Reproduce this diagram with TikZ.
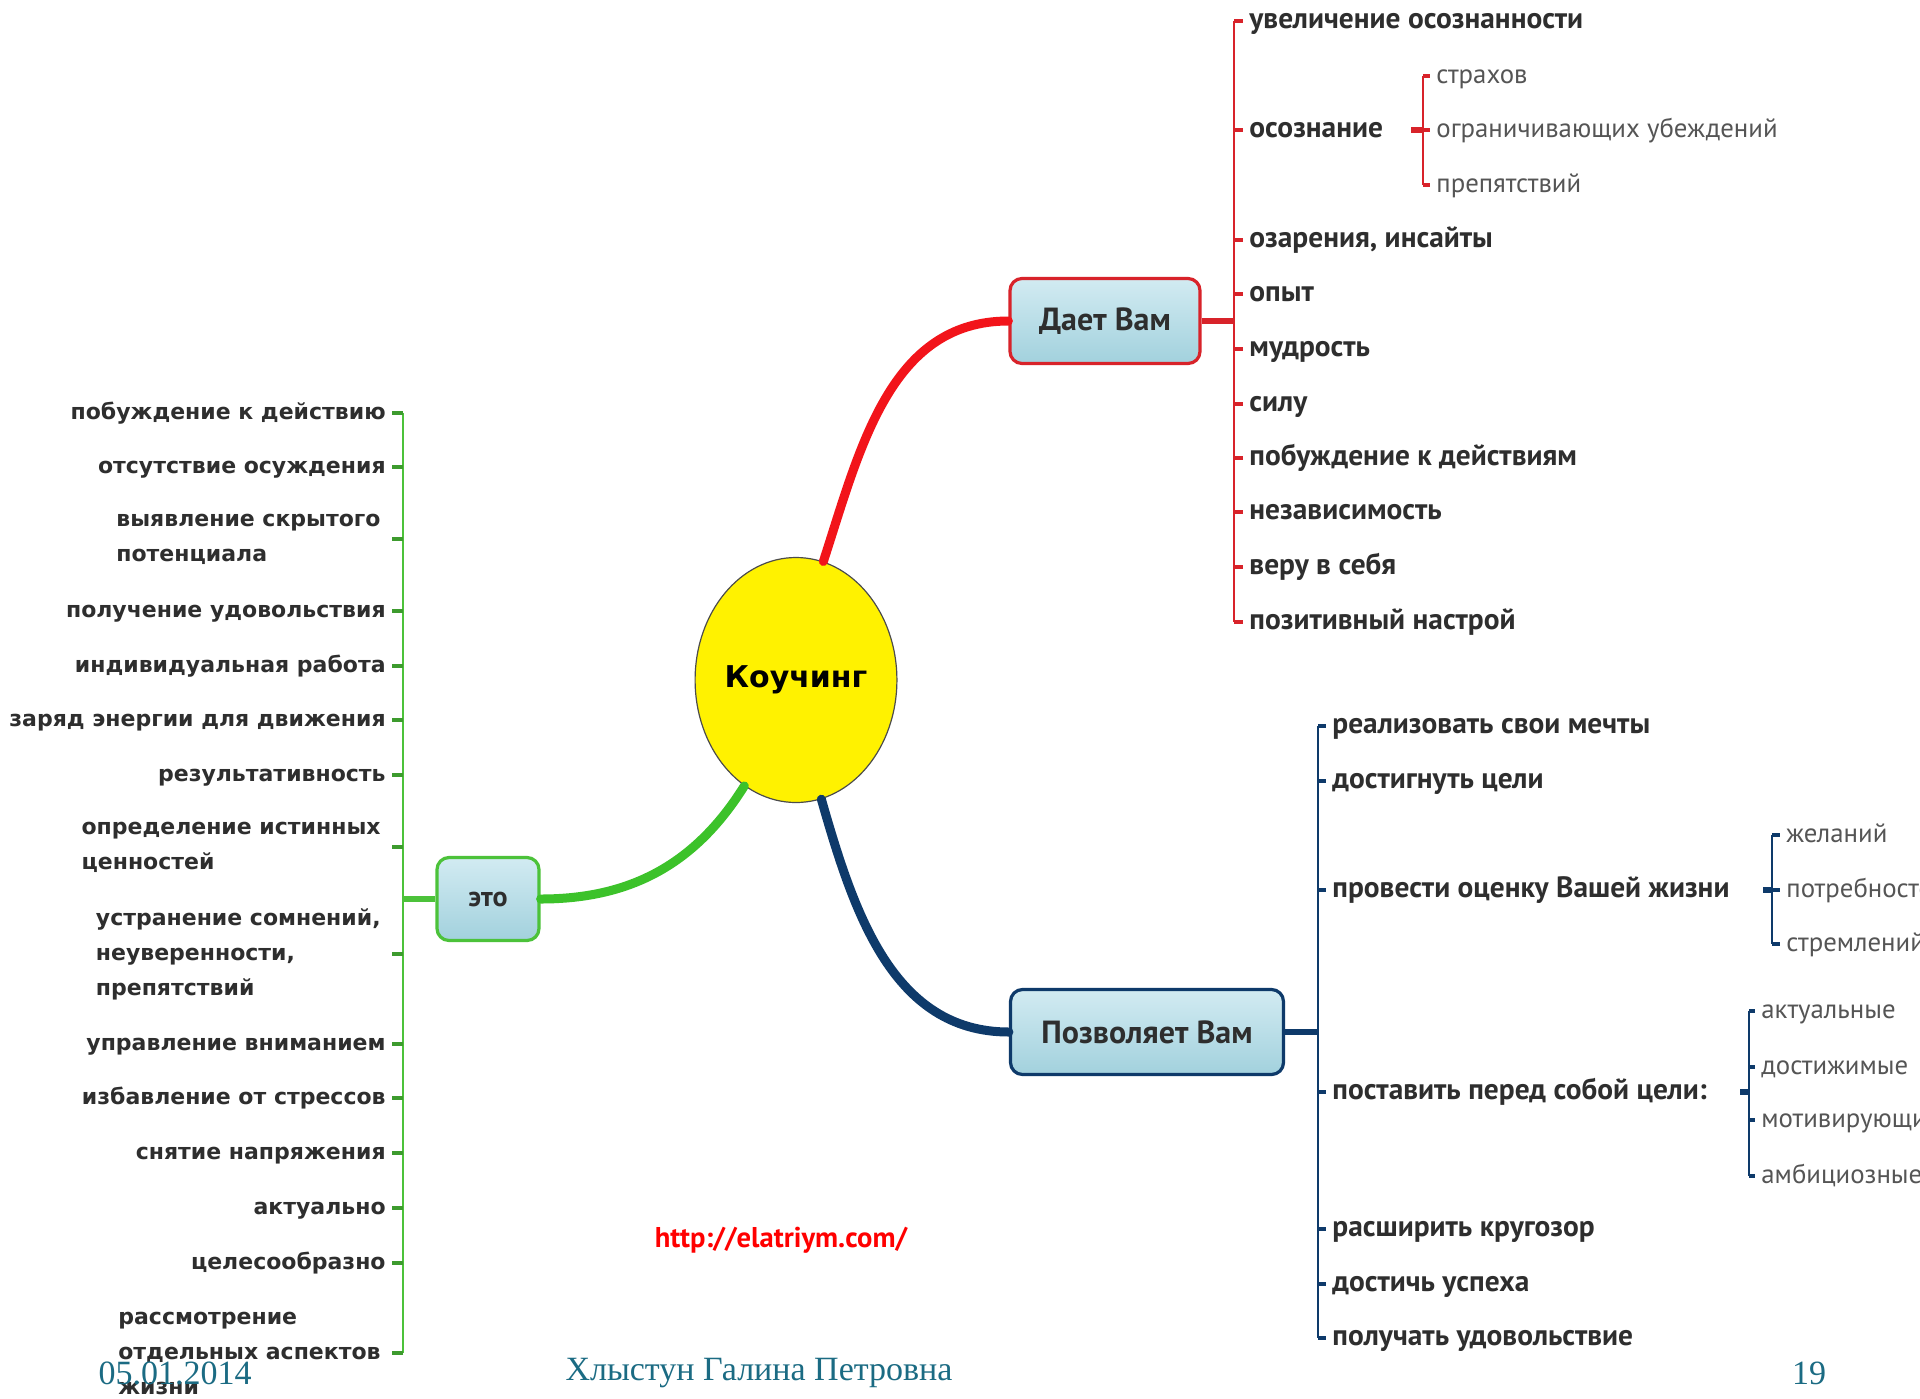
\documentclass[tikz,border=0pt]{standalone}
\usepackage{fontspec}
\setmainfont{Liberation Serif}
\newfontfamily\ptsans{PT Sans}
\newfontfamily\dejavu{DejaVu Sans}
\usetikzlibrary{positioning}
\usetikzlibrary{shapes.geometric}

\definecolor{branchred}{HTML}{F2141A}
\definecolor{barred}{HTML}{D8232A}
\definecolor{branchgreen}{HTML}{3CC22A}
\definecolor{bargreen}{HTML}{4CC23A}
\definecolor{branchblue}{HTML}{0E3A6A}
\definecolor{boxtop}{HTML}{D2EBF2}
\definecolor{boxbot}{HTML}{A2D1DD}
\definecolor{txtgray}{HTML}{2E2E2E}
\definecolor{subgray}{HTML}{555555}
\definecolor{footteal}{HTML}{1B6B83}

\tikzset{
  centre/.style={ellipse, draw=black!70, line width=0.6pt, fill=yellow,
    minimum width=95.5pt, minimum height=122.5pt, inner sep=0pt,
    font=\dejavu\bfseries\fontsize{15}{18}\selectfont},
  topic/.style={rounded corners=6pt, line width=1.6pt, top color=boxtop,
    bottom color=boxbot, text=txtgray, inner sep=0pt, minimum height=42.5pt,
    font=\ptsans\bfseries\fontsize{16}{19}\selectfont},
  ritem/.style={anchor=west, inner sep=0pt, text=txtgray, text height=10pt,
    text depth=3pt, font=\ptsans\bfseries\fontsize{14.7}{17}\selectfont},
  rsub/.style={ritem, text=subgray, font=\ptsans\fontsize{13.4}{17}\selectfont},
  litem/.style={anchor=east, inner sep=0pt, text=txtgray, text height=8pt,
    text depth=2pt, font=\dejavu\bfseries\fontsize{11}{17.5}\selectfont},
  litems/.style={anchor=east, inner sep=0pt, text=txtgray, align=left,
    font=\dejavu\bfseries\fontsize{11}{17.5}\selectfont},
  trunk/.style={line width=4.5pt, line cap=round},
  bar/.style={line width=1pt},
  tick/.style={line width=1.6pt},
  stub/.style={line width=3pt},
  foot/.style={text=footteal, font=\fontsize{17}{20}\selectfont},
}

\begin{document}
\begin{tikzpicture}[x=0.5pt, y=-0.5pt]
    \path[use as bounding box, fill=white] (0,0) rectangle (1920,1398);

    \node[centre] (coach) at (796,680) {Коучинг};
    \node[topic, draw=barred, minimum width=95pt] (gives) at (1105,321) {Дает Вам};
    \node[topic, draw=branchblue, minimum width=136.5pt] (allows) at (1147,1032) {Позволяет Вам};
    \node[topic, draw=bargreen, minimum width=51pt, minimum height=41.5pt,
      font=\ptsans\bfseries\fontsize{14}{17}\selectfont] (this) at (488,899) {это};

    % Main branches
    \draw[trunk, branchred] (coach.77) to[out=72, in=180] (gives.west);
    \draw[trunk, branchgreen] (coach.244) to[out=238, in=0] (this.east);
    \draw[trunk, branchblue] (coach.282) to[out=-74, in=180] (allows.west);

    % Bars
    \coordinate (rbar) at (1234,0);
    \coordinate (sbar) at (1423,0);
    \coordinate (bbar) at (1318,0);
    \coordinate (pbar) at (1772,0);
    \coordinate (qbar) at (1749,0);
    \coordinate (gbar) at (403,0);

    % Дает Вам
    \node[ritem] (a1) at (1249,21) {увеличение осознанности};
    \node[ritem, below=54.5pt of a1.west, anchor=west] (a2) {осознание};
    \node[ritem, below=55pt of a2.west, anchor=west] (a3) {озарения, инсайты};
    \node[ritem, below=27pt of a3.west, anchor=west] (a4) {опыт};
    \node[ritem, below=27.5pt of a4.west, anchor=west] (a5) {мудрость};
    \node[ritem, below=27.5pt of a5.west, anchor=west] (a6) {силу};
    \node[ritem, below=27pt of a6.west, anchor=west] (a7) {побуждение к действиям};
    \node[ritem, below=27pt of a7.west, anchor=west] (a8) {независимость};
    \node[ritem, below=27.5pt of a8.west, anchor=west] (a9) {веру в себя};
    \node[ritem, below=27.5pt of a9.west, anchor=west] (a10) {позитивный настрой};

    \node[rsub] (s1) at (1436,76) {страхов};
    \node[rsub, below=27pt of s1.west, anchor=west] (s2) {ограничивающих убеждений};
    \node[rsub, below=27.5pt of s2.west, anchor=west] (s3) {препятствий};
    \coordinate (sstub) at (1411,130);

    \draw[stub, barred] (gives.east) -- (gives.east -| rbar);
    \draw[bar, barred] (a1.west -| rbar) -- (a10.west -| rbar);
    \draw[tick, barred] (a1.west -| rbar) -- ([xshift=-3pt]a1.west)
      (a2.west -| rbar) -- ([xshift=-3pt]a2.west)
      (a3.west -| rbar) -- ([xshift=-3pt]a3.west)
      (a4.west -| rbar) -- ([xshift=-3pt]a4.west)
      (a5.west -| rbar) -- ([xshift=-3pt]a5.west)
      (a6.west -| rbar) -- ([xshift=-3pt]a6.west)
      (a7.west -| rbar) -- ([xshift=-3pt]a7.west)
      (a8.west -| rbar) -- ([xshift=-3pt]a8.west)
      (a9.west -| rbar) -- ([xshift=-3pt]a9.west)
      (a10.west -| rbar) -- ([xshift=-3pt]a10.west);
    \draw[stub, barred] (sstub) -- (s2.west -| sbar);
    \draw[bar, barred] (s1.west -| sbar) -- (s3.west -| sbar);
    \draw[tick, barred] (s1.west -| sbar) -- ([xshift=-3pt]s1.west)
      (s2.west -| sbar) -- ([xshift=-3pt]s2.west)
      (s3.west -| sbar) -- ([xshift=-3pt]s3.west);

    % Позволяет Вам
    \node[ritem] (b1) at (1332,726) {реализовать свои мечты};
    \node[ritem, below=27.5pt of b1.west, anchor=west] (b2) {достигнуть цели};
    \node[ritem, below=54.5pt of b2.west, anchor=west] (b3) {провести оценку Вашей жизни};
    \node[ritem, below=101pt of b3.west, anchor=west] (b4) {поставить перед собой цели:};
    \node[ritem, below=68.5pt of b4.west, anchor=west] (b5) {расширить кругозор};
    \node[ritem, below=27.5pt of b5.west, anchor=west] (b6) {достичь успеха};
    \node[ritem, below=27pt of b6.west, anchor=west] (b7) {получать удовольствие};

    \node[rsub] (p1) at (1786,835) {желаний};
    \node[rsub, below=27.5pt of p1.west, anchor=west] (p2) {потребностей};
    \node[rsub, below=27pt of p2.west, anchor=west] (p3) {стремлений};
    \coordinate (pstub) at (1763,890);

    \node[rsub] (q1) at (1761,1011) {актуальные};
    \node[rsub, below=28pt of q1.west, anchor=west] (q2) {достижимые};
    \node[rsub, below=26.5pt of q2.west, anchor=west] (q3) {мотивирующие};
    \node[rsub, below=28pt of q3.west, anchor=west] (q4) {амбициозные};
    \coordinate (qstub) at (1740,1092);

    \draw[stub, branchblue] (allows.east) -- (allows.east -| bbar);
    \draw[bar, branchblue] (b1.west -| bbar) -- (b7.west -| bbar);
    \draw[tick, branchblue] (b1.west -| bbar) -- ([xshift=-3pt]b1.west)
      (b2.west -| bbar) -- ([xshift=-3pt]b2.west)
      (b3.west -| bbar) -- ([xshift=-3pt]b3.west)
      (b4.west -| bbar) -- ([xshift=-3pt]b4.west)
      (b5.west -| bbar) -- ([xshift=-3pt]b5.west)
      (b6.west -| bbar) -- ([xshift=-3pt]b6.west)
      (b7.west -| bbar) -- ([xshift=-3pt]b7.west);
    \draw[stub, branchblue] (pstub) -- (p2.west -| pbar);
    \draw[bar, branchblue] (p1.west -| pbar) -- (p3.west -| pbar);
    \draw[tick, branchblue] (p1.west -| pbar) -- ([xshift=-3pt]p1.west)
      (p2.west -| pbar) -- ([xshift=-3pt]p2.west)
      (p3.west -| pbar) -- ([xshift=-3pt]p3.west);
    \draw[stub, branchblue] (qstub) -- (qstub -| qbar);
    \draw[bar, branchblue] (q1.west -| qbar) -- (q4.west -| qbar);
    \draw[tick, branchblue] (q1.west -| qbar) -- ([xshift=-3pt]q1.west)
      (q2.west -| qbar) -- ([xshift=-3pt]q2.west)
      (q3.west -| qbar) -- ([xshift=-3pt]q3.west)
      (q4.west -| qbar) -- ([xshift=-3pt]q4.west);

    % это
    \node[litem] (g1) at (386,413) {побуждение к действию};
    \node[litem] (g2) at (386,467) {отсутствие осуждения};
    \node[litems] (g3) at (381,539) {выявление скрытого\\потенциала};
    \node[litem] (g4) at (386,611) {получение удовольствия};
    \node[litem] (g5) at (386,666) {индивидуальная работа};
    \node[litem] (g6) at (386,720) {заряд энергии для движения};
    \node[litem] (g7) at (386,775) {результативность};
    \node[litems] (g8) at (381,847) {определение истинных\\ценностей};
    \node[litems] (g9) at (381,954) {устранение сомнений,\\неуверенности,\\препятствий};
    \node[litem] (g10) at (386,1044) {управление вниманием};
    \node[litem] (g11) at (386,1098) {избавление от стрессов};
    \node[litem] (g12) at (386,1153) {снятие напряжения};
    \node[litem] (g13) at (386,1208) {актуально};
    \node[litem] (g14) at (386,1263) {целесообразно};
    \node[litems] (g15) at (381,1353) {рассмотрение\\отдельных аспектов\\жизни};

    \draw[stub, bargreen] (this.west) -- (this.west -| gbar);
    \draw[bar, bargreen] (g1.east -| gbar) -- (g15.east -| gbar);
    \draw[tick, bargreen!80!black] (g1.east -| gbar) -- ([xshift=3pt]g1.east)
      (g2.east -| gbar) -- ([xshift=3pt]g2.east)
      (g3.east -| gbar) -- ([xshift=5.5pt]g3.east)
      (g4.east -| gbar) -- ([xshift=3pt]g4.east)
      (g5.east -| gbar) -- ([xshift=3pt]g5.east)
      (g6.east -| gbar) -- ([xshift=3pt]g6.east)
      (g7.east -| gbar) -- ([xshift=3pt]g7.east)
      (g8.east -| gbar) -- ([xshift=5.5pt]g8.east)
      (g9.east -| gbar) -- ([xshift=5.5pt]g9.east)
      (g10.east -| gbar) -- ([xshift=3pt]g10.east)
      (g11.east -| gbar) -- ([xshift=3pt]g11.east)
      (g12.east -| gbar) -- ([xshift=3pt]g12.east)
      (g13.east -| gbar) -- ([xshift=3pt]g13.east)
      (g14.east -| gbar) -- ([xshift=3pt]g14.east)
      (g15.east -| gbar) -- ([xshift=5.5pt]g15.east);

    % Link and footer
    \node[text=red, font=\ptsans\bfseries\fontsize{14.3}{16}\selectfont] (url) at (781,1240) {http://elatriym.com/};
    \node[foot] (date) at (175,1373) {05.01.2014};
    \node[foot] (author) at (759,1373) {Хлыстун Галина Петровна};
    \node[foot] (page) at (1809,1373) {19};
  \end{tikzpicture}
\end{document}
